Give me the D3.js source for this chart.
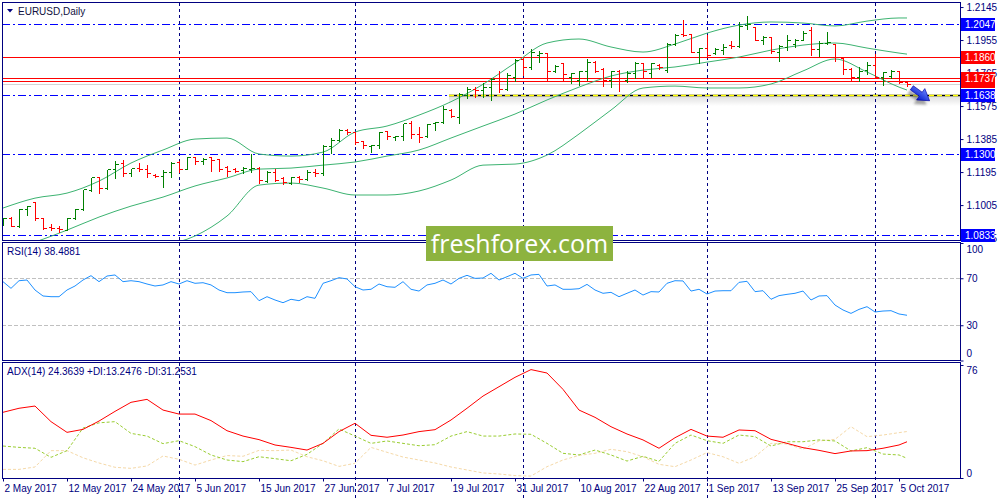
<!DOCTYPE html>
<html>
<head>
<meta charset="utf-8">
<title>EURUSD Daily</title>
<script src="https://cdn.jsdelivr.net/npm/d3@7"></script>
<style>
  body { margin: 0; background: #fff; }
  svg { display: block; font-family: "Liberation Sans", Arial, sans-serif; }
</style>
</head>
<body>
<svg id="chart"></svg>
<script>
// daily OHLC bars, 2 May 2017 .. 6 Oct 2017
const opens = [1.0899,1.0933,1.0883,1.0985,1.1020,1.0931,1.0879,1.0872,1.0864,1.0933,
  1.0981,1.1094,1.1164,1.1106,1.1210,1.1248,1.1190,1.1219,1.1215,1.1181,
  1.1171,1.1196,1.1252,1.1214,1.1279,1.1258,1.1279,1.1271,1.1225,1.1212,
  1.1206,1.1215,1.1219,1.1144,1.1196,1.1160,1.1133,1.1167,1.1158,1.1196,
  1.1187,1.1344,1.1379,1.1440,1.1427,1.1375,1.1344,1.1352,1.1432,1.1398,
  1.1402,1.1475,1.1413,1.1402,1.1475,1.1484,1.1555,1.1513,1.1638,1.1676,
  1.1667,1.1682,1.1734,1.1676,1.1745,1.1847,1.1801,1.1868,1.1878,1.1776,
  1.1820,1.1740,1.1724,1.1776,1.1828,1.1791,1.1724,1.1778,1.1724,1.1766,
  1.1824,1.1766,1.1811,1.1782,1.1935,1.1987,1.1987,1.1887,1.1907,1.1878,
  1.1897,1.1926,1.1922,1.2041,1.2031,1.1955,1.1970,1.1887,1.1916,1.1935,
  1.1958,1.2012,1.1901,1.1939,1.1935,1.1849,1.1791,1.1743,1.1782,1.1811,
  1.1743,1.1747,1.1776,1.1715];
const highs = [1.0937,1.0941,1.0989,1.1004,1.1022,1.0933,1.0899,1.0891,1.0937,1.0991,
  1.1100,1.1167,1.1175,1.1215,1.1267,1.1273,1.1221,1.1252,1.1244,1.1190,
  1.1212,1.1258,1.1263,1.1286,1.1283,1.1279,1.1283,1.1273,1.1233,1.1225,
  1.1229,1.1302,1.1229,1.1206,1.1219,1.1171,1.1171,1.1181,1.1210,1.1221,
  1.1354,1.1398,1.1446,1.1446,1.1430,1.1382,1.1359,1.1432,1.1440,1.1407,
  1.1480,1.1494,1.1459,1.1475,1.1490,1.1580,1.1561,1.1657,1.1692,1.1690,
  1.1715,1.1740,1.1782,1.1772,1.1853,1.1859,1.1910,1.1897,1.1887,1.1816,
  1.1830,1.1772,1.1782,1.1849,1.1839,1.1801,1.1782,1.1791,1.1782,1.1834,
  1.1830,1.1830,1.1820,1.1945,1.1993,1.2074,1.1993,1.1916,1.1987,1.1916,
  1.1939,1.1955,1.2066,1.2099,1.2035,1.1983,1.1978,1.1930,1.1987,1.1968,
  1.2012,1.2035,1.1958,1.2006,1.1939,1.1862,1.1801,1.1805,1.1836,1.1878,
  1.1778,1.1791,1.1782,1.1718];
const lows = [1.0893,1.0883,1.0879,1.0947,1.0918,1.0866,1.0860,1.0849,1.0860,1.0924,
  1.0979,1.1087,1.1075,1.1100,1.1162,1.1175,1.1171,1.1202,1.1164,1.1164,
  1.1110,1.1167,1.1196,1.1212,1.1244,1.1244,1.1202,1.1200,1.1171,1.1194,
  1.1190,1.1196,1.1133,1.1139,1.1142,1.1125,1.1129,1.1139,1.1148,1.1175,
  1.1181,1.1302,1.1375,1.1417,1.1359,1.1336,1.1311,1.1331,1.1388,1.1382,
  1.1382,1.1394,1.1369,1.1398,1.1440,1.1475,1.1513,1.1478,1.1619,1.1628,
  1.1628,1.1609,1.1657,1.1667,1.1718,1.1753,1.1791,1.1830,1.1724,1.1772,
  1.1720,1.1705,1.1695,1.1724,1.1772,1.1690,1.1682,1.1663,1.1715,1.1734,
  1.1743,1.1743,1.1786,1.1772,1.1926,1.1978,1.1884,1.1824,1.1859,1.1874,
  1.1872,1.1910,1.1916,1.2016,1.1955,1.1930,1.1882,1.1836,1.1897,1.1916,
  1.1955,1.1868,1.1862,1.1935,1.1836,1.1759,1.1718,1.1718,1.1759,1.1740,
  1.1699,1.1734,1.1705,1.1690];
const closes = [1.0933,1.0887,1.0985,1.1002,1.0929,1.0872,1.0874,1.0868,1.0933,1.0983,
  1.1096,1.1164,1.1106,1.1212,1.1244,1.1190,1.1219,1.1215,1.1190,1.1171,
  1.1196,1.1250,1.1215,1.1283,1.1258,1.1273,1.1263,1.1215,1.1202,1.1202,
  1.1219,1.1219,1.1148,1.1196,1.1152,1.1139,1.1167,1.1158,1.1196,1.1190,
  1.1344,1.1382,1.1440,1.1427,1.1369,1.1350,1.1352,1.1427,1.1402,1.1400,
  1.1475,1.1413,1.1398,1.1471,1.1484,1.1557,1.1517,1.1647,1.1676,1.1667,
  1.1682,1.1732,1.1676,1.1753,1.1843,1.1801,1.1887,1.1878,1.1776,1.1805,
  1.1759,1.1766,1.1776,1.1830,1.1778,1.1724,1.1776,1.1720,1.1763,1.1820,
  1.1778,1.1820,1.1801,1.1932,1.1983,1.1983,1.1887,1.1910,1.1868,1.1901,
  1.1916,1.1920,1.2035,1.2047,1.1958,1.1974,1.1893,1.1920,1.1958,1.1955,
  1.1997,1.1901,1.1939,1.1945,1.1859,1.1791,1.1743,1.1776,1.1811,1.1743,
  1.1772,1.1778,1.1715,1.1701];

// Bollinger bands, read every 4 bars
const bandIdx = [0,4,8,12,16,20,24,28,32,36,40,44,48,52,56,60,64,68,72,76,80,84,88,92,96,100,104,108,112,113];
const bbUpper = [1.0988,1.1045,1.1074,1.1143,1.1247,1.1322,1.1385,1.1391,1.1299,1.1287,1.1310,1.1425,1.1460,1.1523,1.1600,1.1700,
  1.1823,1.1938,1.1961,1.1915,1.1886,1.1932,1.1995,1.2041,1.2059,1.2053,1.2036,1.2064,1.2082,1.2082];
const bbMiddle = [1.0735,1.0792,1.0861,1.0936,1.0999,1.1051,1.1115,1.1161,1.1212,1.1218,1.1235,1.1253,1.1287,1.1322,1.1391,1.1460,
  1.1529,1.1610,1.1684,1.1748,1.1782,1.1800,1.1828,1.1857,1.1897,1.1926,1.1938,1.1909,1.1880,1.1874];
const bbLower = [1.0602,1.0619,1.0642,1.0677,1.0717,1.0769,1.0827,1.0942,1.1120,1.1132,1.1103,1.1063,1.1063,1.1086,1.1149,1.1235,
  1.1241,1.1293,1.1414,1.1552,1.1679,1.1690,1.1679,1.1679,1.1702,1.1777,1.1846,1.1771,1.1684,1.1667];

// RSI(14), one value per bar
const rsi = [67.1,61.4,67.9,68.5,60.0,54.9,54.3,54.3,60.0,63.4,
  68.5,72.2,67.1,71.9,72.8,67.1,67.9,67.1,65.1,63.4,
  64.3,67.1,65.1,67.9,65.7,66.2,64.3,60.0,57.7,57.7,
  58.3,58.6,50.9,54.3,51.5,49.2,52.1,50.9,54.3,52.9,
  65.7,67.9,70.5,69.4,62.8,60.0,60.6,65.1,62.8,62.3,
  67.1,60.6,59.1,64.3,65.7,68.5,65.1,69.9,72.5,69.9,
  70.2,74.2,68.5,71.3,74.2,69.9,72.8,73.3,63.4,64.3,
  60.6,60.6,61.1,64.8,60.0,57.2,58.0,54.3,57.2,60.0,
  55.7,58.6,58.3,65.7,67.9,67.7,59.1,60.6,56.6,59.1,
  59.4,59.4,66.5,67.4,58.6,59.4,52.1,55.2,56.3,57.2,
  59.1,51.5,54.9,55.2,47.2,43.0,40.1,43.5,45.8,41.3,
  42.1,42.4,39.6,38.4881];

// ADX(14), read every 2 bars
const adxIdx = [0,2,4,6,8,10,12,14,16,18,20,22,24,26,28,30,32,34,36,38,40,42,44,46,48,50,52,54,56,58,
  60,62,64,66,68,70,72,74,76,78,80,82,84,86,88,90,92,94,96,98,100,102,104,106,108,110,112,113];
const adxMain = [44.2,46.9,48.4,37.9,30.7,32.7,38.3,44.8,50.9,52.9,
  45.7,43.0,43.0,38.6,31.8,28.2,25.8,22.2,20.6,18.8,
  23.3,31.2,36.8,28.7,27.4,28.9,31.2,32.5,39.0,46.9,
  55.1,61.4,67.7,72.9,70.6,59.6,45.7,40.8,34.5,29.6,
  25.6,20.0,27.1,32.7,28.2,27.4,32.3,31.8,26.0,23.3,
  20.4,18.6,16.4,18.2,18.4,20.0,22.2,24.3639];
const adxPlus = [21.5,20.6,20.0,13.9,18.4,33.6,37.1,37.9,30.0,28.2,
  23.1,25.1,21.1,15.5,12.1,11.0,14.3,13.0,11.6,15.9,
  23.3,33.0,28.2,23.3,24.9,23.3,21.7,22.4,28.2,31.2,
  28.2,28.2,29.6,29.4,23.3,16.6,15.5,18.8,15.5,11.4,
  14.6,11.2,23.3,28.9,25.1,23.3,28.9,27.8,21.5,24.4,
  24.4,25.6,24.9,18.2,20.4,16.1,15.5,13.2476];
const adxMinus = [5.8,5.8,7.4,18.4,18.4,13.6,10.1,7.2,6.5,8.1,
  14.8,12.6,8.7,12.1,15.1,14.6,18.6,18.4,18.8,14.3,
  11.6,7.8,9.9,20.6,17.3,14.1,12.1,10.1,7.4,5.4,
  3.4,2.7,1.6,1.3,7.6,12.1,15.2,16.6,19.3,17.7,
  14.3,9.2,7.6,12.1,17.1,14.3,9.9,14.3,23.3,22.9,
  19.3,24.9,26.0,34.5,27.8,28.9,30.5,31.2531];

// axis labels and drawn objects
const dateIdx = [0,8,16,24,32,40,48,56,64,72,80,88,96,104,112];
const dateLabels = ["2 May 2017","12 May 2017","24 May 2017","5 Jun 2017","15 Jun 2017","27 Jun 2017","7 Jul 2017",
  "19 Jul 2017","31 Jul 2017","10 Aug 2017","22 Aug 2017","1 Sep 2017","13 Sep 2017","25 Sep 2017","5 Oct 2017"];
const monthStarts = [22,44,65,88,109];
const priceTicks = [1.2145,1.1955,1.1765,1.1575,1.1385,1.1195,1.1005,1.0815];
const blueLevels = [1.2047,1.1300,1.0833];
const supportLevel = 1.1638;
const supportFrom = 56;
const redLevels = [1.1860,1.1719,1.1737];
const bidPrice = 1.1701;
const rsiTicks = [100,70,30,0];
const rsiLevels = [70,30];
const adxTicks = [76,0];

const navy = "#000080";
const svg = d3.select("#chart").attr("width", 1000).attr("height", 500);

const x = d3.scaleLinear().domain([0, 113]).range([3, 907]);
const yP = d3.scaleLinear().domain([1.0804, 1.2174]).range([240, 2]);
const yR = d3.scaleLinear().domain([0, 100]).range([360.5, 243]);
const yA = d3.scaleLinear().domain([0, 76]).range([478, 365]);
const c = v => Math.round(v) + 0.5; // crisp 1px lines

const defs = svg.append("defs");
[["clipMain", 3, 3, 957, 237], ["clipRsi", 3, 243, 957, 117], ["clipAdx", 3, 363, 957, 115]].forEach(([id, cx, cy, w, h]) => {
  defs.append("clipPath").attr("id", id).append("rect").attr("x", cx).attr("y", cy).attr("width", w).attr("height", h);
});
const shade = defs.append("linearGradient").attr("id", "shade").attr("x1", 0).attr("x2", 0).attr("y1", 0).attr("y2", 1);
shade.append("stop").attr("offset", "0%").attr("stop-color", "#000").attr("stop-opacity", 0.13);
shade.append("stop").attr("offset", "100%").attr("stop-color", "#000").attr("stop-opacity", 0);
defs.append("filter").attr("id", "blur").append("feGaussianBlur").attr("stdDeviation", 1.3);
const arrowGrad = defs.append("linearGradient").attr("id", "arrowGrad").attr("x1", 0).attr("x2", 0).attr("y1", 0).attr("y2", 1);
arrowGrad.append("stop").attr("offset", "0%").attr("stop-color", "#6a86ff");
arrowGrad.append("stop").attr("offset", "100%").attr("stop-color", "#0014c8");

// month separators, through all three windows
svg.append("g").selectAll("line").data(monthStarts).join("line")
  .attr("x1", d => c(x(d))).attr("x2", d => c(x(d)))
  .attr("y1", 3).attr("y2", 500)
  .attr("stroke", navy).attr("stroke-dasharray", "3,3");

// ---- main window
const main = svg.append("g").attr("clip-path", "url(#clipMain)");

main.selectAll("line.blue").data(blueLevels.concat([supportLevel])).join("line").attr("class", "blue")
  .attr("x1", 2).attr("x2", 960).attr("y1", d => c(yP(d))).attr("y2", d => c(yP(d)))
  .attr("stroke", "#0000ff").attr("stroke-dasharray", "8,3,2,3");

main.selectAll("line.red").data(redLevels).join("line").attr("class", "red")
  .attr("x1", 2).attr("x2", 960).attr("y1", d => c(yP(d))).attr("y2", d => c(yP(d)))
  .attr("stroke", "#ff0000");

main.append("line")
  .attr("x1", 2).attr("x2", 960).attr("y1", c(yP(bidPrice))).attr("y2", c(yP(bidPrice)))
  .attr("stroke", "#d4d4d4");

// support line: shadow, black base and yellow dashes
main.append("rect")
  .attr("x", x(supportFrom) - 2).attr("y", c(yP(supportLevel)) + 0.5)
  .attr("width", 960 - x(supportFrom) + 2).attr("height", 10)
  .attr("fill", "url(#shade)");
main.append("line")
  .attr("x1", x(supportFrom) - 2).attr("x2", 960).attr("y1", c(yP(supportLevel))).attr("y2", c(yP(supportLevel)))
  .attr("stroke", "#000").attr("stroke-width", 1.5);
main.append("line")
  .attr("x1", x(supportFrom) - 2).attr("x2", 960).attr("y1", c(yP(supportLevel))).attr("y2", c(yP(supportLevel)))
  .attr("stroke", "#ffff00").attr("stroke-width", 1.5).attr("stroke-dasharray", "5,3");

// Bollinger bands
const bandLine = d3.line().x((d, k) => x(bandIdx[k])).y(d => yP(d)).curve(d3.curveMonotoneX);
main.selectAll("path.band").data([bbUpper, bbMiddle, bbLower]).join("path").attr("class", "band")
  .attr("d", bandLine).attr("fill", "none").attr("stroke", "#3cb371");

// OHLC bars
main.selectAll("path.bar").data(d3.range(opens.length)).join("path").attr("class", "bar")
  .attr("d", i => {
    const cx = c(x(i));
    return `M${cx},${c(yP(highs[i]))}V${c(yP(lows[i]))}` +
      `M${cx - 3},${c(yP(opens[i]))}H${cx}` +
      `M${cx},${c(yP(closes[i]))}H${cx + 3}`;
  })
  .attr("fill", "none")
  .attr("stroke", i => closes[i] >= opens[i] ? "#008000" : "#ff0000")
  .attr("shape-rendering", "crispEdges");

// ---- RSI window
const rsiG = svg.append("g").attr("clip-path", "url(#clipRsi)");
rsiG.selectAll("line").data(rsiLevels).join("line")
  .attr("x1", 2).attr("x2", 960).attr("y1", d => c(yR(d))).attr("y2", d => c(yR(d)))
  .attr("stroke", "#c0c0c0").attr("stroke-dasharray", "4,2");
rsiG.append("path")
  .attr("d", d3.line().x((d, i) => x(i)).y(d => yR(d))(rsi))
  .attr("fill", "none").attr("stroke", "#1e90ff");

// ---- ADX window
const adxG = svg.append("g").attr("clip-path", "url(#clipAdx)");
const adxLine = d3.line().x((d, k) => x(adxIdx[k])).y(d => yA(d));
adxG.append("path").attr("d", adxLine(adxMinus)).attr("fill", "none")
  .attr("stroke", "#f5d9a8").attr("stroke-dasharray", "3,2");
adxG.append("path").attr("d", adxLine(adxPlus)).attr("fill", "none")
  .attr("stroke", "#9acd32").attr("stroke-dasharray", "3,2");
adxG.append("path").attr("d", adxLine(adxMain)).attr("fill", "none")
  .attr("stroke", "#ff0000");

// window frames
svg.append("g").selectAll("rect").data([[2, 240], [242, 360], [362, 478]]).join("rect")
  .attr("x", 2.5).attr("y", d => d[0] + 0.5).attr("width", 958).attr("height", d => d[1] - d[0])
  .attr("fill", "none").attr("stroke", navy);

// right scales
function styleAxis(g) {
  g.attr("font-family", "Liberation Sans, Arial, sans-serif").attr("font-size", 10);
  g.select(".domain").remove();
  g.selectAll(".tick line").attr("stroke", navy);
  g.selectAll(".tick text").attr("fill", navy);
}
svg.append("g").attr("transform", "translate(960.5,0)")
  .call(d3.axisRight(yP).tickValues(priceTicks).tickSize(3).tickPadding(3).tickFormat(d3.format(".4f")))
  .call(styleAxis);
svg.append("g").attr("transform", "translate(960.5,0)")
  .call(d3.axisRight(yR).tickValues(rsiTicks).tickSize(3).tickPadding(3))
  .call(styleAxis)
  .selectAll(".tick text").attr("dy", d => d === 100 ? "0.9em" : d === 0 ? "-0.42em" : "0.32em");
svg.append("g").attr("transform", "translate(960.5,0)")
  .call(d3.axisRight(yA).tickValues(adxTicks).tickSize(3).tickPadding(3))
  .call(styleAxis)
  .selectAll(".tick text").attr("dy", d => d === 76 ? "0.82em" : "-0.2em");

// price tags of the horizontal lines
const tags = redLevels.map(v => ({ v, fill: "#ff0000" }))
  .concat(blueLevels.concat([supportLevel]).map(v => ({ v, fill: "#0000ff" })));
const tagG = svg.append("g").selectAll("g").data(tags).join("g")
  .attr("transform", d => `translate(961,${Math.round(yP(d.v))})`);
tagG.append("rect").attr("x", 0).attr("y", -6).attr("width", 34).attr("height", 13).attr("fill", d => d.fill);
tagG.append("text").attr("x", 4).attr("y", 0.5).attr("dy", "0.35em")
  .attr("font-size", 10).attr("fill", "#fff").text(d => d3.format(".4f")(d.v));

// dates
const dateAxis = svg.append("g").attr("transform", "translate(0,478.5)")
  .call(d3.axisBottom(x).tickValues(dateIdx).tickSize(3).tickFormat((d, k) => dateLabels[k]));
dateAxis.attr("font-family", "Liberation Sans, Arial, sans-serif").attr("font-size", 10);
dateAxis.select(".domain").remove();
dateAxis.selectAll(".tick line").attr("stroke", navy);
dateAxis.selectAll(".tick text").attr("text-anchor", "start").attr("x", 1).attr("y", 6).attr("fill", navy);

// window captions
svg.append("path").attr("d", "M7,9H13L10,12.5Z").attr("fill", navy);
svg.append("text").attr("x", 18).attr("y", 14.5).attr("font-size", 10).attr("fill", "#101040").text("EURUSD,Daily");
svg.append("text").attr("x", 7).attr("y", 255).attr("font-size", 10).attr("fill", navy)
  .text(`RSI(14) ${rsi[rsi.length - 1].toFixed(4)}`);
svg.append("text").attr("x", 7).attr("y", 375).attr("font-size", 10).attr("fill", navy)
  .text(`ADX(14) ${adxMain[adxMain.length - 1].toFixed(4)} +DI:${adxPlus[adxPlus.length - 1].toFixed(4)} -DI:${adxMinus[adxMinus.length - 1].toFixed(4)}`);

// blue arrow pointing down to the support
const arrowShape = "M0,-2.5H11V-7L22,0L11,7V2.5H0Z";
const arrow = svg.append("g").attr("transform", `translate(${x(113.6)},${yP(1.1680)}) rotate(36)`);
arrow.append("path").attr("d", arrowShape).attr("transform", "translate(0,5)")
  .attr("fill", "#444").attr("opacity", 0.45).attr("filter", "url(#blur)");
arrow.append("path").attr("d", arrowShape).attr("fill", "url(#arrowGrad)").attr("stroke", "#0000a0").attr("stroke-width", 0.6);

// watermark
svg.append("rect").attr("x", 426).attr("y", 226).attr("width", 187).attr("height", 35).attr("fill", "#8db33f");
svg.append("text").attr("x", 519.5).attr("y", 253).attr("text-anchor", "middle")
  .attr("font-family", "Open Sans, Noto Sans, sans-serif").attr("font-size", 25).attr("fill", "#fff")
  .text("freshforex.com");
</script>
</body>
</html>
